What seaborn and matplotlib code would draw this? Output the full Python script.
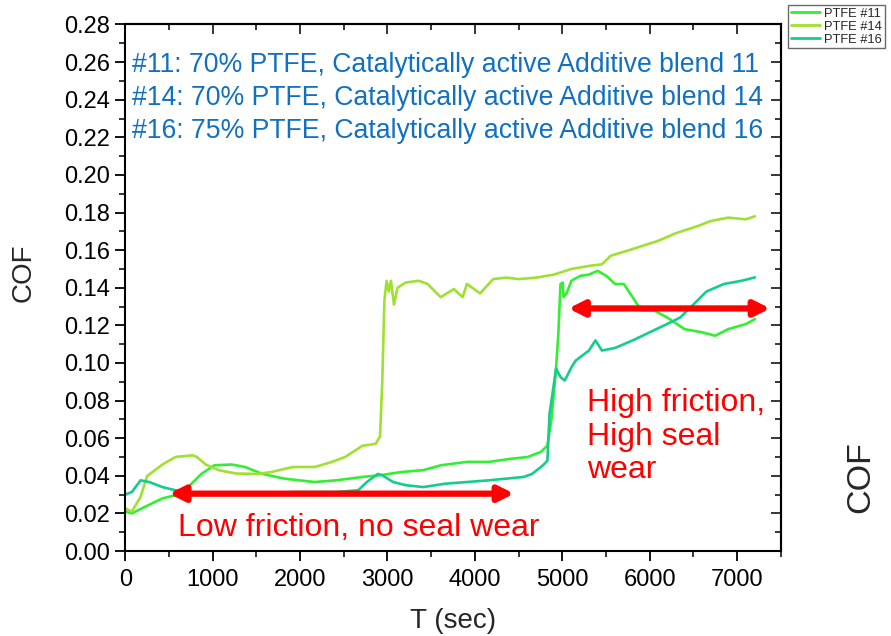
import numpy as np
import pandas as pd
import matplotlib
matplotlib.use("Agg")
import matplotlib.pyplot as plt
import seaborn as sns
from matplotlib.ticker import MultipleLocator
from matplotlib.lines import Line2D

# ---- data ----
t14 = [0, 75, 175, 250, 425, 575, 770, 820, 920, 1070, 1270, 1520, 1670, 1920, 2170, 2365, 2515,
       2715, 2865, 2915, 2940, 2965, 2990, 3015, 3040, 3075, 3115, 3210, 3360, 3460, 3610, 3760,
       3860, 3910, 4060, 4210, 4360, 4505, 4705, 4905, 5105, 5305, 5455, 5555, 5800, 6100, 6300,
       6550, 6700, 6900, 7100, 7205]
c14 = [0.0226, 0.021, 0.0288, 0.0399, 0.046, 0.050, 0.0509, 0.050, 0.046, 0.043, 0.0412, 0.041,
       0.042, 0.0447, 0.0447, 0.0474, 0.050, 0.056, 0.057, 0.061, 0.0889, 0.133, 0.1437, 0.138,
       0.1437, 0.131, 0.140, 0.1428, 0.1437, 0.142, 0.135, 0.1393, 0.135, 0.142, 0.137, 0.1446,
       0.1454, 0.1446, 0.1454, 0.147, 0.150, 0.1516, 0.1525, 0.157, 0.1605, 0.165, 0.169, 0.1728,
       0.1755, 0.1773, 0.1764, 0.178]

t11 = [0, 75, 225, 425, 575, 720, 870, 1020, 1220, 1370, 1570, 1820, 2165, 2415, 2715, 2915, 3160,
       3410, 3610, 3910, 4160, 4405, 4605, 4755, 4830, 4880, 4930, 4955, 4980, 5005, 5015, 5050,
       5105, 5205, 5305, 5405, 5505, 5605, 5705, 5805, 5905, 6050, 6200, 6400, 6600, 6750, 6900,
       7100, 7205]
c11 = [0.021, 0.020, 0.0235, 0.028, 0.0297, 0.034, 0.041, 0.0456, 0.046, 0.0447, 0.041, 0.0385,
       0.0367, 0.0376, 0.0394, 0.0403, 0.042, 0.043, 0.0456, 0.0474, 0.0474, 0.049, 0.050, 0.0527,
       0.056, 0.071, 0.0977, 0.115, 0.1419, 0.1428, 0.135, 0.137, 0.1437, 0.1463, 0.147, 0.149,
       0.1463, 0.142, 0.142, 0.135, 0.128, 0.128, 0.1242, 0.118, 0.1163, 0.1145, 0.118, 0.1207,
       0.1233]

t16 = [0, 75, 175, 275, 425, 575, 720, 920, 1420, 1920, 2415, 2665, 2765, 2890, 2940, 3065, 3210,
       3410, 3660, 3910, 4160, 4560, 4655, 4780, 4830, 4855, 4905, 4930, 4980, 5030, 5105, 5155,
       5305, 5380, 5455, 5605, 5805, 6000, 6200, 6350, 6500, 6650, 6850, 7050, 7205]
c16 = [0.030, 0.0314, 0.0376, 0.0367, 0.034, 0.0323, 0.0314, 0.0305, 0.0305, 0.0314, 0.0314,
       0.0323, 0.0367, 0.041, 0.0403, 0.0367, 0.035, 0.034, 0.0358, 0.0367, 0.0376, 0.0394, 0.041,
       0.0456, 0.048, 0.073, 0.0889, 0.097, 0.0925, 0.0907, 0.0977, 0.1013, 0.1066, 0.112, 0.1066,
       0.108, 0.112, 0.1163, 0.1207, 0.1242, 0.131, 0.138, 0.142, 0.1437, 0.1455]

series = ["PTFE #11", "PTFE #14", "PTFE #16"]
colors = ["#33ee33", "#a0e030", "#16cc8c"]

notes = ["#11: 70% PTFE, Catalytically active Additive blend 11",
         "#14: 70% PTFE, Catalytically active Additive blend 14",
         "#16: 75% PTFE, Catalytically active Additive blend 16"]

low_span = [500, 4450]
low_level = 0.0305
high_span = [5070, 7380]
high_level = 0.129

xticks = [0, 1000, 2000, 3000, 4000, 5000, 6000, 7000]
yticks = [0.00, 0.02, 0.04, 0.06, 0.08, 0.10, 0.12, 0.14, 0.16, 0.18, 0.20, 0.22, 0.24, 0.26, 0.28]

df = pd.concat([
    pd.DataFrame({"T": t11, "COF": c11, "s": series[0]}),
    pd.DataFrame({"T": t14, "COF": c14, "s": series[1]}),
    pd.DataFrame({"T": t16, "COF": c16, "s": series[2]}),
], ignore_index=True)

sns.set_style("ticks")
plt.rcParams["font.family"] = ["Liberation Sans", "DejaVu Sans"]

fig = plt.figure(figsize=(8.91, 6.36), dpi=100)
ax = fig.add_axes([0.1406, 0.1336, 0.8762 - 0.1406, 0.9615 - 0.1336])

sns.lineplot(data=df, x="T", y="COF", hue="s", palette=dict(zip(series, colors)),
             estimator=None, sort=False, units="s", linewidth=1.9, legend=False, ax=ax)
ax.set_xlim(0, 7500)
ax.set_ylim(0, 0.28)
ax.set_xticks(xticks)
ax.set_yticks(yticks)
ax.set_yticklabels([f"{v:.2f}" for v in yticks])
ax.xaxis.set_minor_locator(MultipleLocator(500))
ax.yaxis.set_minor_locator(MultipleLocator(0.01))
ax.tick_params(axis="both", which="major", labelsize=17, direction="out", length=7, width=1.3,
               colors="black", top=False, right=False)
ax.tick_params(axis="both", which="minor", direction="out", length=4, width=1.3, top=False, right=False)
ax.tick_params(axis="y", which="major", pad=4)
ax.tick_params(axis="x", which="major", pad=6)
for sp in ax.spines.values():
    sp.set_linewidth(1.5)
    sp.set_color("black")
    sp.set_visible(True)

axt = ax.secondary_xaxis("top")
axt.set_xticks(xticks)
axt.xaxis.set_minor_locator(MultipleLocator(500))
axt.tick_params(which="major", direction="in", length=7, width=1.3, labeltop=False)
axt.tick_params(which="minor", direction="in", length=4, width=1.3)
axt.spines["top"].set_linewidth(1.5)
axr = ax.secondary_yaxis("right")
axr.set_yticks(yticks)
axr.yaxis.set_minor_locator(MultipleLocator(0.01))
axr.tick_params(which="major", direction="in", length=7, width=1.3, labelright=False)
axr.tick_params(which="minor", direction="in", length=4, width=1.3)
axr.spines["right"].set_linewidth(1.5)

ax.set_xlabel("T (sec)", fontsize=20, labelpad=12)
ax.set_ylabel("")
fig.text(24 / 891, 1 - 273 / 636, "COF", rotation=90, fontsize=20, ha="center", va="center")

blue = "#1170c0"
for i, n in enumerate(notes):
    ax.text(0.011, 0.923 - i * 0.0625, n, transform=ax.transAxes, color=blue, fontsize=19.2,
            va="center", ha="left")

red = "#ff0000"
ax.annotate("", xy=(low_span[0], low_level), xytext=(low_span[1], low_level),
            arrowprops=dict(arrowstyle="<|-|>,head_length=0.9,head_width=0.45", color=red, lw=4.5,
                            shrinkA=0, shrinkB=0))
ax.annotate("", xy=(high_span[0], high_level), xytext=(high_span[1], high_level),
            arrowprops=dict(arrowstyle="<|-|>,head_length=0.9,head_width=0.45", color=red, lw=4.5,
                            shrinkA=0, shrinkB=0))
ax.text(600, 0.012, "Low friction, no seal wear", color=red, fontsize=23, va="center", ha="left")
ax.text(5283, 0.0607, "High friction,\nHigh seal\nwear", color=red, fontsize=23, va="center",
        ha="left", linespacing=1.15)

fig.text(861 / 891, 1 - 477 / 636, "COF", rotation=90, fontsize=24.5, ha="center", va="center")

handles = [Line2D([0], [0], color=c, lw=2) for c in colors]
leg = fig.legend(handles, series, loc="upper left", bbox_to_anchor=(788 / 891, 1 - 5 / 636),
                 fontsize=9.3, frameon=True, fancybox=False, handlelength=2.3, handletextpad=0.3,
                 borderpad=0.2, labelspacing=0.08, borderaxespad=0)
leg.get_frame().set_edgecolor("#444444")
leg.get_frame().set_linewidth(1.0)

fig.savefig("out.png", dpi=100)
